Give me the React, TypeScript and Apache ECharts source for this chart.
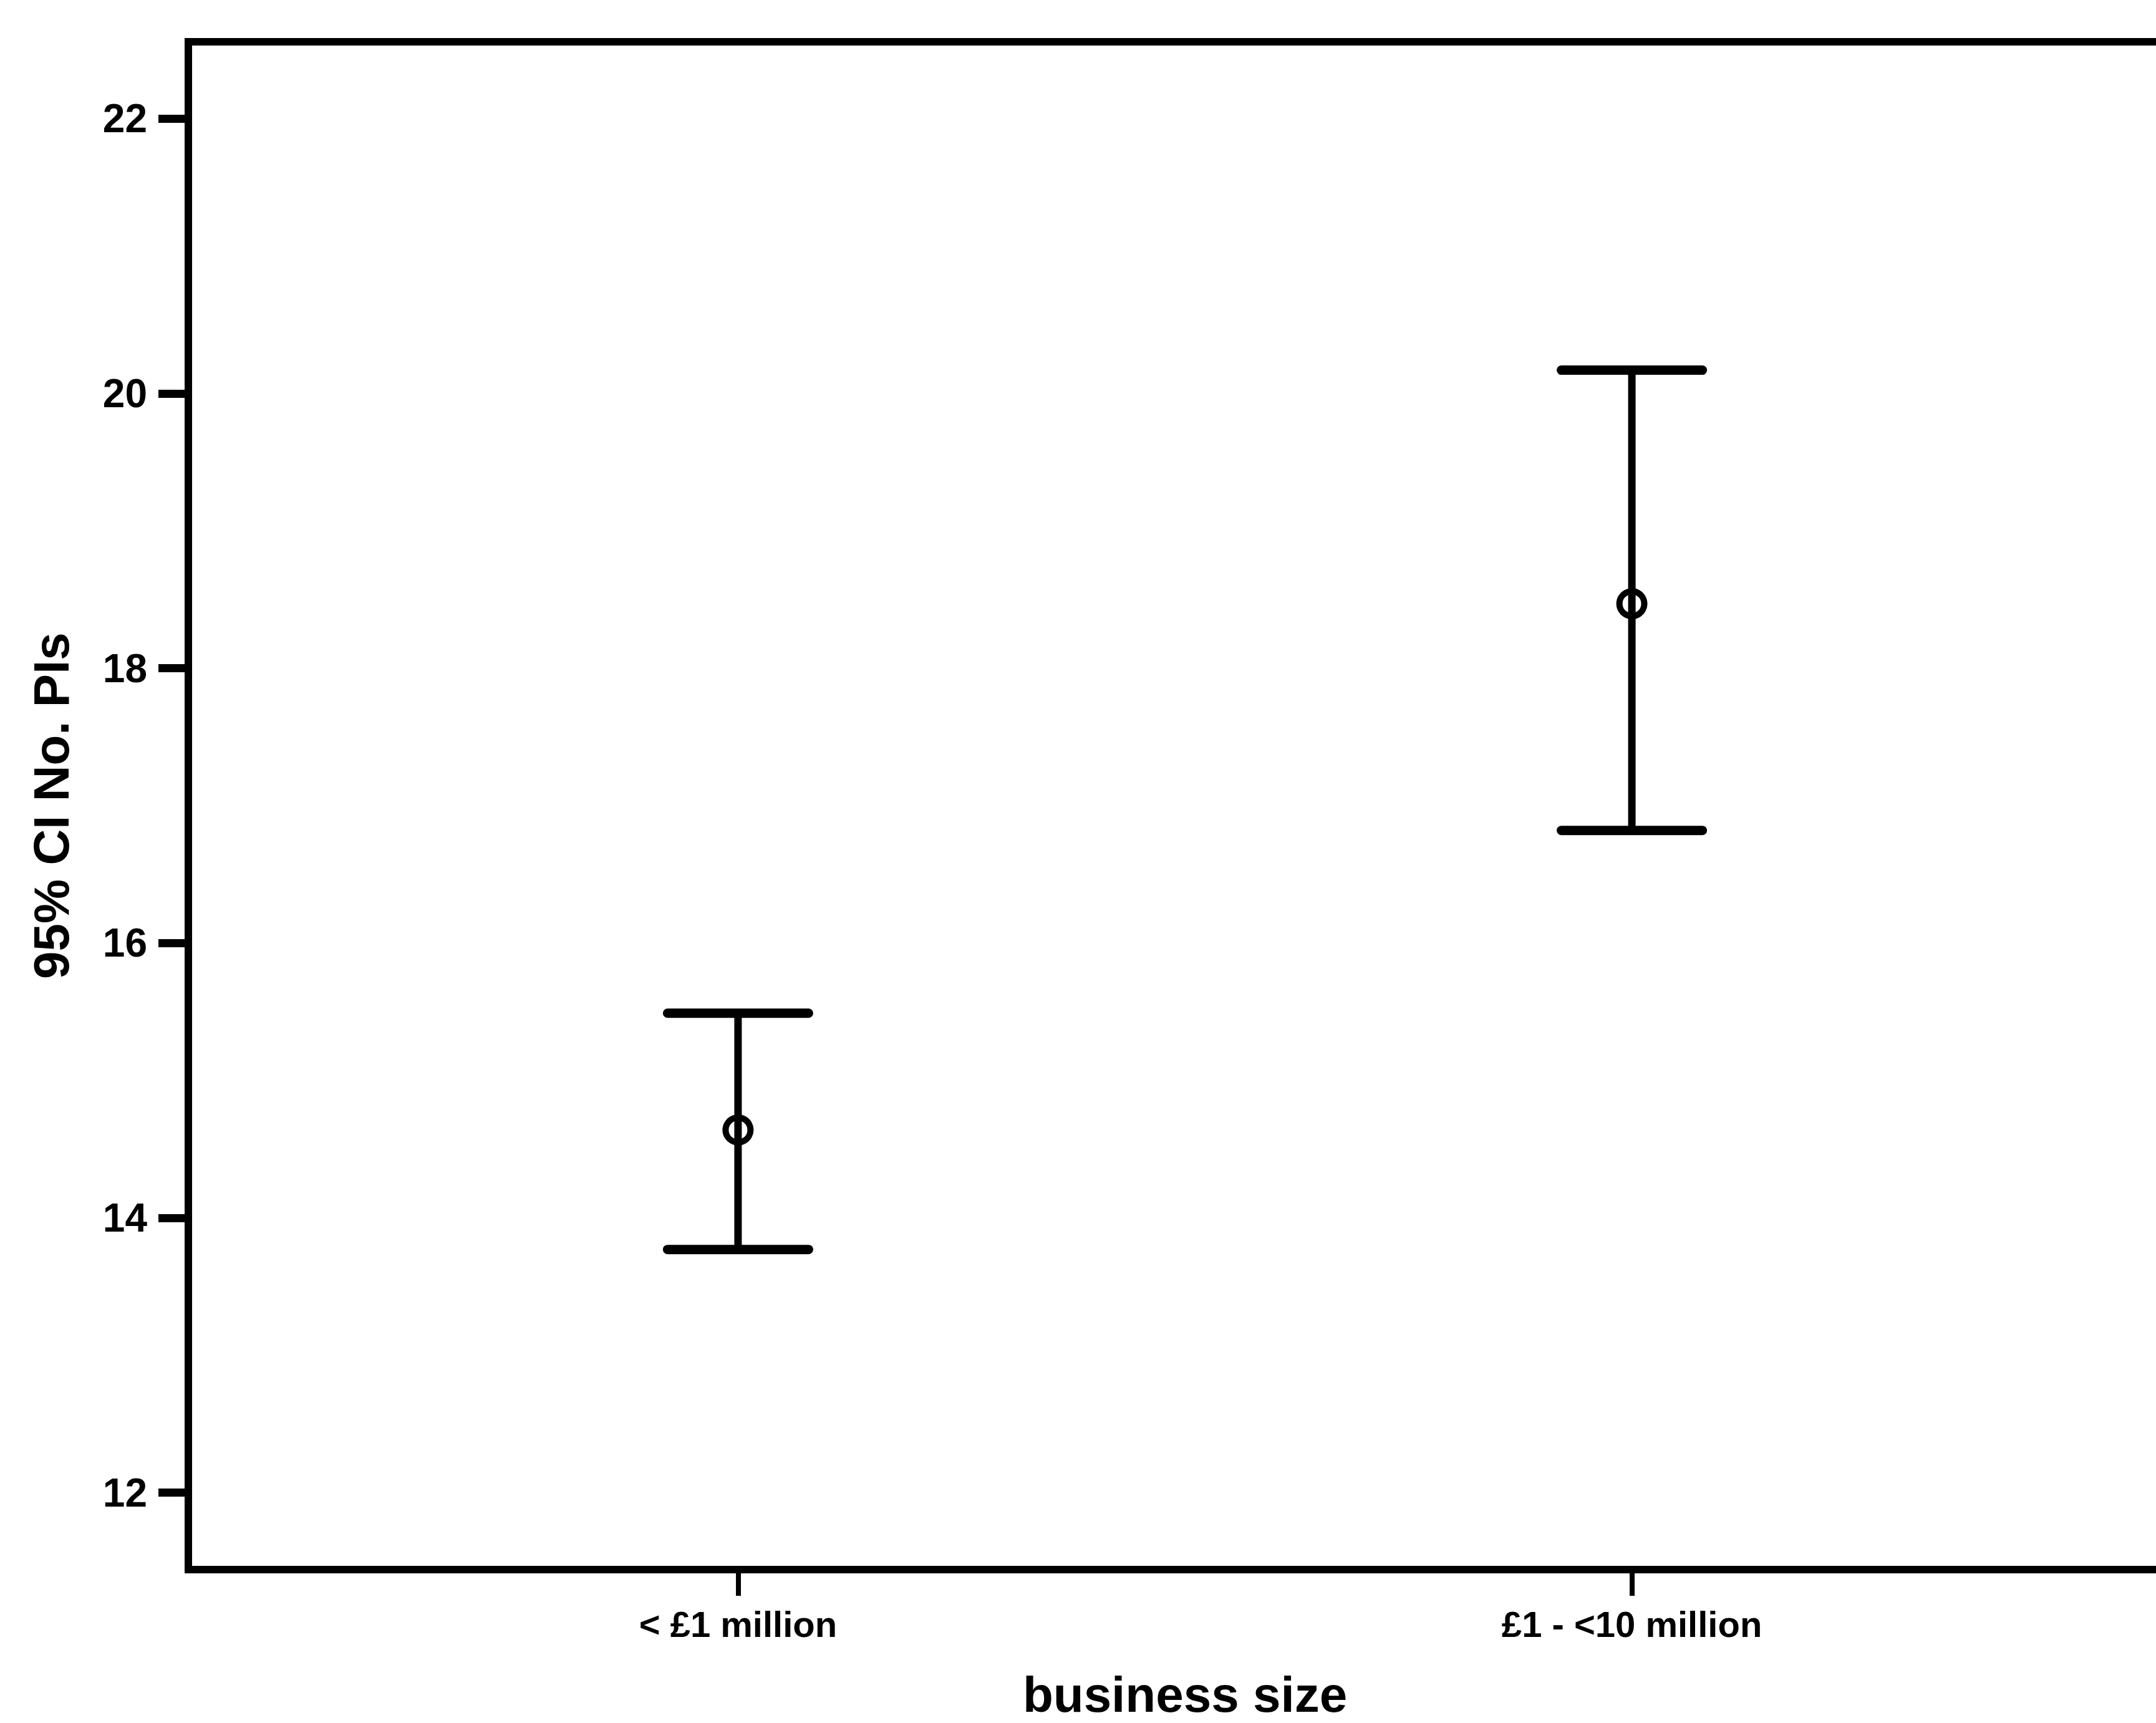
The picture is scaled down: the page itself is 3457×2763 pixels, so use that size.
import React, { useEffect, useRef } from "react";
import * as echarts from "echarts";

const categories = ["< £1 million", "£1 - <10 million"];
const categoryPositions = [0, 1];
const means = [14.64, 18.47];
const lowerCI = [13.77, 16.82];
const upperCI = [15.49, 20.17];
const yTicks = [12, 14, 16, 18, 20, 22];

const FONT = "'Liberation Sans', Arial, Helvetica, sans-serif";

export default function App() {
  const ref = useRef<HTMLDivElement>(null);

  useEffect(() => {
    if (!ref.current) return;
    const chart = echarts.init(ref.current, undefined, { renderer: "svg" });

    const barData = categoryPositions.map((x, i) => [x, lowerCI[i], upperCI[i]]);
    const pointData = categoryPositions.map((x, i) => [x, means[i]]);

    chart.setOption({
      animation: false,
      backgroundColor: "#ffffff",
      grid: {
        left: 302,
        top: 67,
        right: 22,
        bottom: 246,
        containLabel: false,
        outerBoundsMode: "none",
        show: true,
        borderColor: "#000000",
        borderWidth: 12,
        backgroundColor: "transparent",
      },
      xAxis: {
        type: "value",
        min: -0.615,
        max: 1.615,
        name: "business size",
        nameLocation: "middle",
        nameGap: 160,
        nameTextStyle: {
          fontFamily: FONT,
          fontWeight: "bold",
          fontSize: 80,
          lineHeight: 80,
          color: "#000000",
        },
        axisLine: { show: false, onZero: false },
        splitLine: { show: false },
        axisTick: {
          show: true,
          customValues: categoryPositions,
          length: 42,
          lineStyle: { color: "#000000", width: 8 },
        },
        axisLabel: {
          show: true,
          customValues: categoryPositions,
          margin: 58,
          formatter: (v: number) => categories[Math.round(v)] ?? "",
          fontFamily: FONT,
          fontWeight: "bold",
          fontSize: 58,
          color: "#000000",
        },
      },
      yAxis: {
        type: "value",
        min: 11.44,
        max: 22.56,
        name: "95% CI No. PIs",
        nameLocation: "middle",
        nameGap: 180,
        nameTextStyle: {
          fontFamily: FONT,
          fontWeight: "bold",
          fontSize: 80,
          color: "#000000",
        },
        axisLine: { show: false, onZero: false },
        splitLine: { show: false },
        axisTick: {
          show: true,
          customValues: yTicks,
          length: 48,
          lineStyle: { color: "#000000", width: 13 },
        },
        axisLabel: {
          show: true,
          customValues: yTicks,
          margin: 66,
          fontFamily: FONT,
          fontWeight: "bold",
          fontSize: 64,
          color: "#000000",
        },
      },
      series: [
        {
          type: "custom",
          data: barData,
          encode: { x: 0, y: [1, 2] },
          z: 3,
          renderItem: (params: any, api: any) => {
            const x = api.value(0);
            const lo = api.value(1);
            const hi = api.value(2);
            const pLo = api.coord([x, lo]);
            const pHi = api.coord([x, hi]);
            const hw = 113;
            return {
              type: "group",
              children: [
                {
                  type: "line",
                  shape: { x1: pLo[0], y1: pLo[1], x2: pHi[0], y2: pHi[1] },
                  style: { stroke: "#000000", lineWidth: 12 },
                },
                {
                  type: "line",
                  shape: { x1: pHi[0] - hw, y1: pHi[1], x2: pHi[0] + hw, y2: pHi[1] },
                  style: { stroke: "#000000", lineWidth: 15, lineCap: "round" },
                },
                {
                  type: "line",
                  shape: { x1: pLo[0] - hw, y1: pLo[1], x2: pLo[0] + hw, y2: pLo[1] },
                  style: { stroke: "#000000", lineWidth: 15, lineCap: "round" },
                },
              ],
            };
          },
        },
        {
          type: "scatter",
          data: pointData,
          symbol: "circle",
          symbolSize: 40,
          z: 4,
          itemStyle: {
            color: "rgba(255,255,255,0)",
            borderColor: "#000000",
            borderWidth: 10,
            opacity: 1,
          },
        },
      ],
    });

    return () => {
      chart.dispose();
    };
  }, []);

  return (
    <div
      style={{
        position: "fixed",
        left: 0,
        top: 0,
        width: 3457,
        height: 2763,
        overflow: "hidden",
        background: "#ffffff",
      }}
    >
      <div ref={ref} style={{ width: 3520, height: 2763 }} />
    </div>
  );
}
